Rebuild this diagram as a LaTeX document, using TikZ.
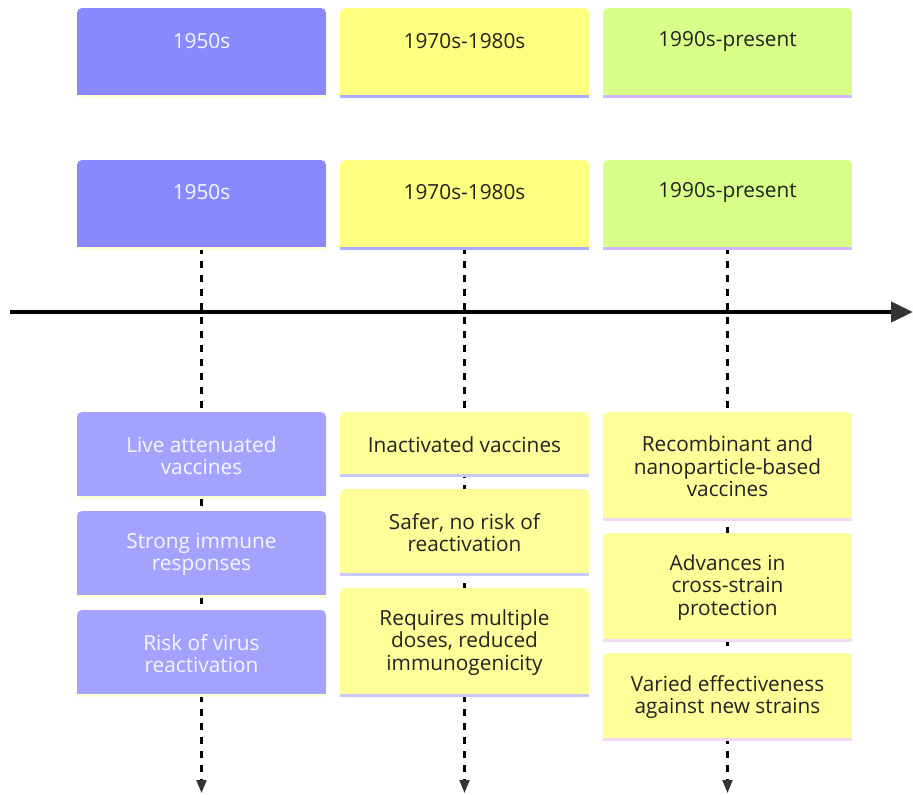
\documentclass[tikz,border=0pt]{standalone}
\usepackage{fontspec}
\setmainfont{Open Sans}
\usetikzlibrary{arrows.meta}
\definecolor{hdrblue}{HTML}{8888FF}
\definecolor{hdryellow}{HTML}{FFFF80}
\definecolor{hdrgreen}{HTML}{D8FF88}
\definecolor{detblue}{HTML}{A3A3FF}
\definecolor{detyellow}{HTML}{FFFF99}
\definecolor{stlight}{HTML}{FFFFD6}
\definecolor{stlav}{HTML}{AAAAFF}
\definecolor{stlavlt}{HTML}{C8C8FF}
\definecolor{stpurple}{HTML}{D2B4FF}
\definecolor{stpink}{HTML}{F4D8F6}
\definecolor{tipgray}{HTML}{333333}
\definecolor{lighttxt}{HTML}{F6F6FF}
\definecolor{darktxt}{HTML}{222222}
\newcommand\tlbox[7]{% name, cx, top, bottom, fill, stripe
  \node[boxshape, fill=#5, minimum height={#4-#3}] (#1) at (#2,{(#3+#4)/2}) {};
  \fill[#5] ([yshift=6pt]#1.south west) rectangle (#1.south east);
  \fill[#6] (#1.south west) rectangle ([yshift=-3pt]#1.south east);
}
\begin{document}
\begin{tikzpicture}[x=1pt,y=-1pt,
  boxshape/.style={rectangle, rounded corners=5pt, minimum width=249pt, inner sep=0pt, draw=none},
  txt/.style={font=\fontsize{20.8}{22.6}\selectfont, align=center, inner sep=0pt, yshift=-1.5pt},
  lt/.style={txt, text=lighttxt},
  dk/.style={txt, text=darktxt},
  axisline/.style={line width=4pt, draw=black, -{Triangle[length=22pt,width=20pt,color=tipgray]}},
  dashline/.style={line width=2.2pt, draw=black, dash pattern=on 7pt off 7pt, -{Triangle[length=13pt,width=10pt,color=tipgray]}}
]
\useasboundingbox (0,0) rectangle (913,795);
% axis
\coordinate (axs) at (10,312);
\coordinate (axe) at (913,312);
\draw[axisline] (axs) -- (axe);
% header row 2 nodes (needed for dashed lines)
\tlbox{hAb}{201.5}{160}{247}{hdrblue}{stlight}{}
\tlbox{hBb}{464.5}{160}{247}{hdryellow}{stlav}{}
\tlbox{hCb}{727.5}{160}{247}{hdrgreen}{stpurple}{}
% dashed timelines
\coordinate (endA) at (201.5,793);
\coordinate (endB) at (464.5,793);
\coordinate (endC) at (727.5,793);
\draw[dashline] (hAb.south) -- (endA);
\draw[dashline] (hBb.south) -- (endB);
\draw[dashline] (hCb.south) -- (endC);
% redraw stripes over line starts
\fill[stlight] (hAb.south west) rectangle ([yshift=-3pt]hAb.south east);
\fill[stlav] (hBb.south west) rectangle ([yshift=-3pt]hBb.south east);
\fill[stpurple] (hCb.south west) rectangle ([yshift=-3pt]hCb.south east);
\node[lt] (hAbt) at (201.5,191) {1950s};
\node[dk] (hBbt) at (464.5,191) {1970s-1980s};
\node[dk] (hCbt) at (727.5,191) {1990s-present};
% header row 1
\tlbox{hAa}{201.5}{8}{95}{hdrblue}{stlight}{}
\tlbox{hBa}{464.5}{8}{95}{hdryellow}{stlav}{}
\tlbox{hCa}{727.5}{8}{95}{hdrgreen}{stpurple}{}
\node[lt] (hAat) at (201.5,40) {1950s};
\node[dk] (hBat) at (464.5,40) {1970s-1980s};
\node[dk] (hCat) at (727.5,40) {1990s-present};
% column A details
\tlbox{a1}{201.5}{412}{496}{detblue}{stlight}{}
\tlbox{a2}{201.5}{511}{595}{detblue}{stlight}{}
\tlbox{a3}{201.5}{610}{694}{detblue}{stlight}{}
\node[lt] (a1t) at (a1) {Live attenuated\\vaccines};
\node[lt] (a2t) at (a2) {Strong immune\\responses};
\node[lt] (a3t) at (a3) {Risk of virus\\reactivation};
% column B details
\tlbox{b1}{464.5}{412}{474}{detyellow}{stlavlt}{}
\tlbox{b2}{464.5}{489}{573}{detyellow}{stlavlt}{}
\tlbox{b3}{464.5}{588}{694}{detyellow}{stlavlt}{}
\node[dk] (b1t) at (b1) {Inactivated vaccines};
\node[dk] (b2t) at (b2) {Safer, no risk of\\reactivation};
\node[dk] (b3t) at (b3) {Requires multiple\\doses, reduced\\immunogenicity};
% column C details
\tlbox{c1}{727.5}{412}{518}{detyellow}{stpink}{}
\tlbox{c2}{727.5}{533}{639}{detyellow}{stpink}{}
\tlbox{c3}{727.5}{653}{738}{detyellow}{stpink}{}
\node[dk] (c1t) at (c1) {Recombinant and\\nanoparticle-based\\vaccines};
\node[dk] (c2t) at (c2) {Advances in\\cross-strain\\protection};
\node[dk] (c3t) at (c3) {Varied effectiveness\\against new strains};
\end{tikzpicture}
\end{document}
